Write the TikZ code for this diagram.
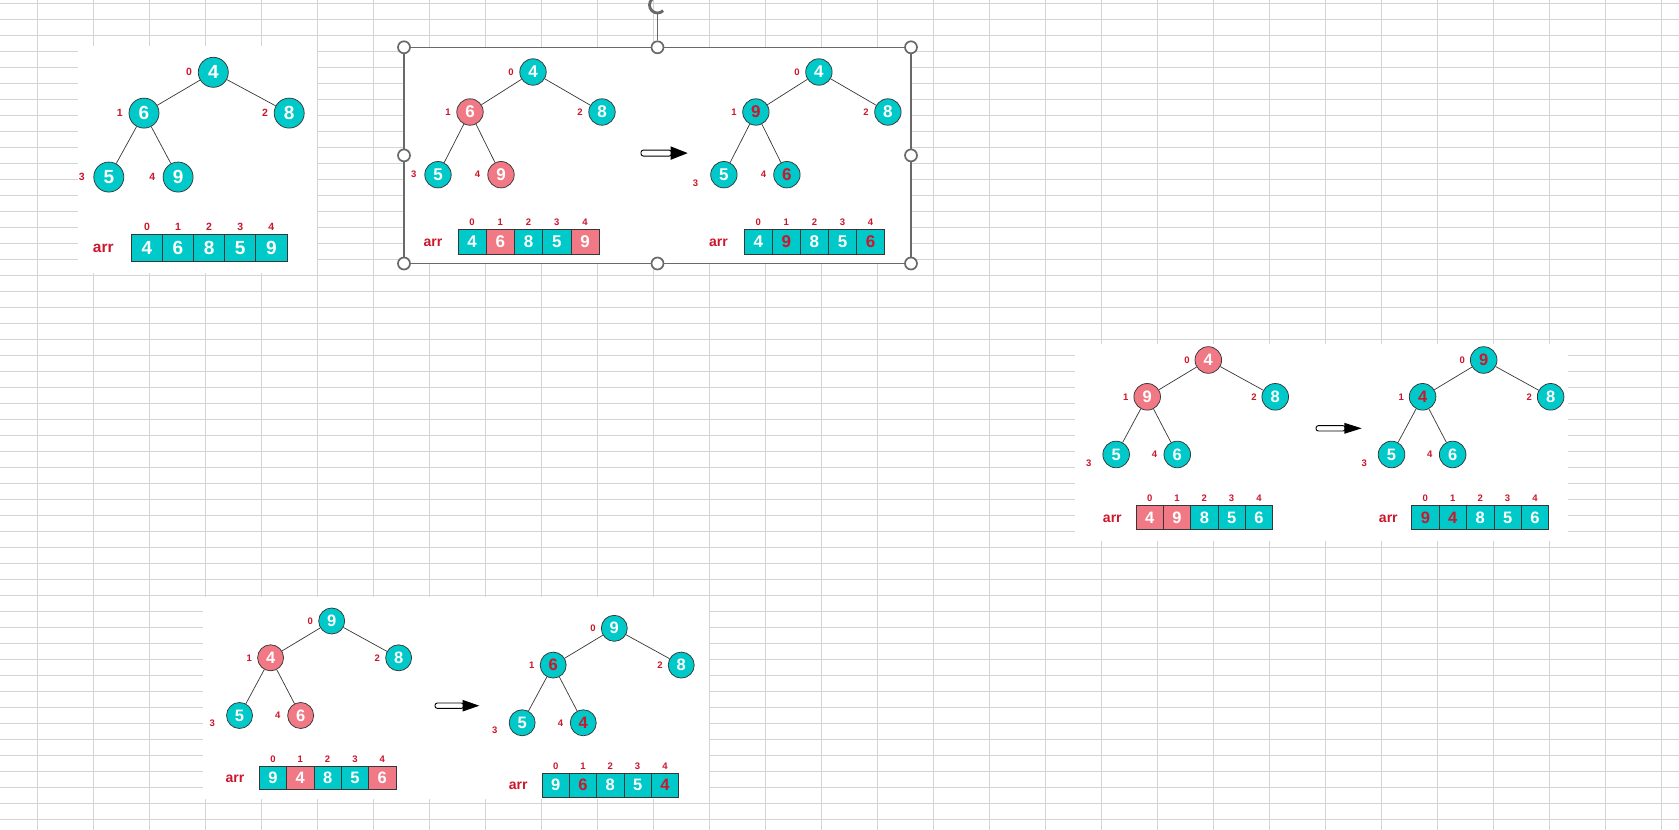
\documentclass[tikz,border=0pt]{standalone}
\usepackage{fontspec}
\setmainfont{Liberation Sans}
\usetikzlibrary{calc,arrows.meta}
\definecolor{Tc}{RGB}{0,201,201}
\definecolor{Pc}{RGB}{241,121,133}
\definecolor{Wc}{RGB}{255,255,255}
\definecolor{Rc}{RGB}{204,22,44}
\definecolor{gridc}{RGB}{212,212,212}
\definecolor{handlec}{RGB}{105,105,105}
\definecolor{outl}{RGB}{55,55,55}
\tikzset{
  hnode/.style={circle,draw=outl,line width=0.75pt,inner sep=0pt,minimum size=26.4pt,font=\fontsize{17}{17}\selectfont\bfseries},
  hcell/.style={rectangle,draw=outl,line width=0.75pt,inner sep=0pt,anchor=north west,font=\fontsize{17}{17}\selectfont\bfseries},
  idx/.style={text=Rc,inner sep=0pt,font=\fontsize{9.5}{9.5}\selectfont\bfseries},
  arrlab/.style={text=Rc,inner sep=0pt,font=\fontsize{14}{14}\selectfont\bfseries},
  edge/.style={draw=outl,line width=0.7pt},
  gridline/.style={draw=gridc,line width=0.9pt},
  panelbg/.style={fill=white},
  handle/.style={circle,draw=handlec,fill=white,line width=1.7pt,minimum size=12pt,inner sep=0pt},
  frame/.style={draw=handlec,line width=1.2pt},
  shaft/.style={draw=black,fill=white,line width=0.9pt,rounded corners=2.4pt},
  head/.style={fill=black},
}
% tree: id, root x, root y, sx, sy, list fill/text/value, label3 dx, label3 dy
\newcommand{\htree}[8]{%
  \foreach \fc/\tc/\v [count=\i from 0] in {#6}{%
    \pgfmathsetmacro\ox{{0,-63,69,-95,-32}[\i]}%
    \pgfmathsetmacro\ox{\ox*#4}%
    \pgfmathsetmacro\oy{{0,40,40,102.7,102.7}[\i]}%
    \pgfmathsetmacro\oy{\oy*#5}%
    \pgfmathsetmacro\lx{{-22,-22,-22,#7,-23.5}[\i]}%
    \pgfmathsetmacro\lx{\lx*#4}%
    \pgfmathsetmacro\ly{{0,0,0,#8,0}[\i]}%
    \node[hnode,fill=\fc,text=\tc] (#1n\i) at (#2+\ox,#3+\oy) {\v};
    \node[idx] (#1l\i) at ($(#1n\i)+(\lx,\ly)$) {\i};
  }
  \draw[edge] (#1n0) -- (#1n1) (#1n0) -- (#1n2) (#1n1) -- (#1n3) (#1n1) -- (#1n4);
}
% array: id, x0, ytop, w, h, list fill/text/value, arr dx
\newcommand{\harr}[7]{%
  \foreach \fc/\tc/\v [count=\i from 0] in {#6}{%
    \node[hcell,fill=\fc,text=\tc,minimum width=#4,minimum height=#5] (#1c\i) at (#2+\i*#4,#3) {\v};
    \node[idx] (#1i\i) at ($(#1c\i.north)+(0,-6.8)$) {\i};
  }
  \node[arrlab] (#1arr) at ($(#1c0.west)+(#7,1)$) {arr};
}
% fat arrow: x start, y, head base x, tip x, shaft half, head half
\newcommand{\fatarrow}[6]{%
  \draw[shaft] (#1,#2-#5) rectangle (#3+1,#2+#5);
  \fill[head] (#3,#2-#6) -- (#4,#2) -- (#3,#2+#6) -- cycle;
}
\begin{document}
\begin{tikzpicture}[x=1pt,y=-1pt]
\useasboundingbox (0,0) rectangle (1679,830);
\fill[white] (0,0) rectangle (1679,830);
% spreadsheet grid
\foreach \k in {0,...,29} \draw[gridline] (37.7+56*\k,0) -- (37.7+56*\k,830);
\foreach \k in {0,...,51} \draw[gridline] (0,3.3+16*\k) -- (1679,3.3+16*\k);
% panel backgrounds
\fill[panelbg] (78,46) rectangle (317,273);
\fill[panelbg] (404,47.3) rectangle (911,263.5);
\fill[panelbg] (1075,344) rectangle (1568,541);
\fill[panelbg] (203,597) rectangle (709,799);

% panel 1
\begin{scope}[hnode/.append style={minimum size=30pt,font=\fontsize{19}{19}\selectfont\bfseries},
  hcell/.append style={font=\fontsize{19}{19}\selectfont\bfseries},
  idx/.append style={font=\fontsize{10.5}{10.5}\selectfont\bfseries},
  arrlab/.append style={font=\fontsize{15.5}{15.5}\selectfont\bfseries}]
\htree{a}{213.3}{72.3}{1.1}{1.02}{Tc/Wc/4,Tc/Wc/6,Tc/Wc/8,Tc/Wc/5,Tc/Wc/9}{-24.5}{0}
\harr{A}{131}{234}{31.1}{26.7}{Tc/Wc/4,Tc/Wc/6,Tc/Wc/8,Tc/Wc/5,Tc/Wc/9}{-27.7}
\end{scope}

% panel 2
\htree{b}{533}{72}{1}{1}{Tc/Wc/4,Pc/Wc/6,Tc/Wc/8,Tc/Wc/5,Pc/Wc/9}{-24.3}{0}
\harr{B}{457.5}{228.8}{28.26}{24.7}{Tc/Wc/4,Pc/Wc/6,Tc/Wc/8,Tc/Wc/5,Pc/Wc/9}{-24.6}
\fatarrow{641}{153.1}{670.5}{687.7}{3}{6.8}
\htree{c}{818.9}{72}{1}{1}{Tc/Wc/4,Tc/Rc/9,Tc/Wc/8,Tc/Wc/5,Tc/Rc/6}{-28.4}{8.2}
\harr{C}{743.8}{228.8}{28.1}{24.7}{Tc/Wc/4,Tc/Rc/9,Tc/Wc/8,Tc/Wc/5,Tc/Rc/6}{-25.3}

% selection frame of panel 2
\draw[frame] (404,47.3) rectangle (911,263.5);
\node[handle] (h1) at (404,47.3) {};
\node[handle] (h2) at (657.5,47.3) {};
\node[handle] (h3) at (911,47.3) {};
\node[handle] (h4) at (404,155.4) {};
\node[handle] (h5) at (911,155.4) {};
\node[handle] (h6) at (404,263.5) {};
\node[handle] (h7) at (657.5,263.5) {};
\node[handle] (h8) at (911,263.5) {};
\coordinate (rot) at (657.5,5);
\draw[handlec,line width=1.3pt] ($(rot)+(0,9)$) -- (h2.north);
\draw[handlec,line width=2.8pt,-{Triangle[length=5pt,width=9pt]}] ($(rot)+(45:8)$) arc[start angle=45,delta angle=265,radius=8];

% panel 3
\begin{scope}[hnode/.append style={minimum size=26.6pt,font=\fontsize{16.5}{16.5}\selectfont\bfseries},
  hcell/.append style={font=\fontsize{16.5}{16.5}\selectfont\bfseries}]
\htree{d}{1208.3}{360}{0.97}{0.92}{Pc/Wc/4,Pc/Wc/9,Tc/Wc/8,Tc/Wc/5,Tc/Wc/6}{-28.2}{8.4}
\harr{D}{1135.7}{505.3}{27.3}{24}{Pc/Wc/4,Pc/Wc/9,Tc/Wc/8,Tc/Wc/5,Tc/Wc/6}{-23.4}
\fatarrow{1316}{428.3}{1344.3}{1361.7}{2.7}{5.5}
\htree{e}{1483.7}{360}{0.97}{0.92}{Tc/Rc/9,Tc/Rc/4,Tc/Wc/8,Tc/Wc/5,Tc/Wc/6}{-28.2}{8.4}
\harr{E}{1411.3}{505.3}{27.4}{24}{Tc/Rc/9,Tc/Rc/4,Tc/Wc/8,Tc/Wc/5,Tc/Wc/6}{-23}
\end{scope}

% panel 4
\begin{scope}[hnode/.append style={minimum size=26pt,font=\fontsize{16.5}{16.5}\selectfont\bfseries},
  hcell/.append style={font=\fontsize{16.5}{16.5}\selectfont\bfseries}]
\htree{f}{331.7}{621}{0.97}{0.92}{Tc/Wc/9,Pc/Wc/4,Tc/Wc/8,Tc/Wc/5,Pc/Wc/6}{-28.2}{8}
\harr{F}{259}{765.7}{27.3}{23.6}{Tc/Wc/9,Pc/Wc/4,Tc/Wc/8,Tc/Wc/5,Pc/Wc/6}{-24}
\fatarrow{435}{705.7}{462.7}{479.3}{2.7}{5.8}
\htree{g}{614.3}{628.3}{0.97}{0.92}{Tc/Wc/9,Tc/Rc/6,Tc/Wc/8,Tc/Wc/5,Tc/Rc/4}{-28.2}{7.7}
\harr{G}{541.7}{772.7}{27.3}{24}{Tc/Wc/9,Tc/Rc/6,Tc/Wc/8,Tc/Wc/5,Tc/Rc/4}{-23.4}
\end{scope}
\end{tikzpicture}
\end{document}
